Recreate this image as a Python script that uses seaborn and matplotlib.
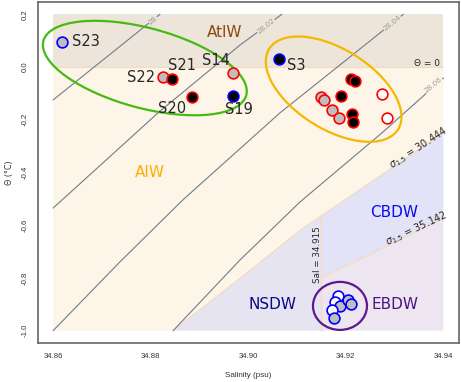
import numpy as np
import pandas as pd
import matplotlib
matplotlib.use("Agg")
import matplotlib.pyplot as plt
import seaborn as sns
from matplotlib.patches import Ellipse
from matplotlib.transforms import ScaledTranslation

# ---------------- data ----------------
# domain of water-mass boxes
sal_min, sal_max = 34.86, 34.94
theta_min, theta_max = -1.0, 0.2

# sigma-1.5 = 30.444 boundary (AIW / deep waters)
sig30444_S = [34.8846, 34.8984, 34.9107, 34.94]
sig30444_T = [-1.0, -0.80, -0.618, -0.25]
# sigma-1.5 = 35.142 boundary (CBDW / EBDW)
sig35142_S = [34.915, 34.94]
sig35142_T = [-0.80, -0.573]
sal_split = 34.915
sal_split_T = -0.564

# sigma-0 isopycnals
iso_levels = ["28", "28.02", "28.04", "28.06"]
iso28_S = [34.86, 34.8819]
iso28_T = [-0.125, 0.2]
iso2802_S = [34.86, 34.8702, 34.8815, 34.8983, 34.9069]
iso2802_T = [-0.535, -0.364, -0.174, 0.083, 0.2]
iso2804_S = [34.86, 34.8737, 34.8866, 34.9065, 34.9318]
iso2804_T = [-1.0, -0.739, -0.504, -0.174, 0.2]
iso2806_S = [34.8846, 34.8983, 34.9106, 34.9274, 34.94]
iso2806_T = [-1.0, -0.732, -0.512, -0.250, -0.042]
iso_label_S = [34.8805, 34.9036, 34.9295, 34.9379]
iso_label_T = [0.178, 0.156, 0.167, -0.068]

# stations
pt_S = [34.8618, 34.8826, 34.8844, 34.8885, 34.8969, 34.8969, 34.9064,
        34.9210, 34.9219, 34.9190, 34.9149, 34.9155, 34.9171, 34.9186,
        34.9213, 34.9214, 34.9275, 34.9285,
        34.9184, 34.9178, 34.9188, 34.9205, 34.9211, 34.9172, 34.9176]
pt_T = [0.096, -0.037, -0.047, -0.115, -0.022, -0.110, 0.029,
        -0.046, -0.053, -0.109, -0.113, -0.125, -0.163, -0.192,
        -0.179, -0.207, -0.104, -0.192,
        -0.868, -0.891, -0.906, -0.884, -0.899, -0.921, -0.952]
pt_fill = ["gray", "gray", "black", "black", "gray", "black", "black",
           "black", "black", "black", "gray", "gray", "gray", "gray",
           "black", "black", "white", "white",
           "white", "white", "gray", "gray", "gray", "white", "gray"]
pt_edge = ["blue", "red", "red", "red", "red", "blue", "blue",
           "red", "red", "red", "red", "red", "red", "red",
           "red", "red", "red", "red",
           "blue", "blue", "blue", "blue", "blue", "blue", "blue"]

stn_names = ["S23", "S22", "S21", "S20", "S14", "S19", "S3"]
stn_lab_S = [34.8638, 34.8809, 34.8864, 34.8843, 34.8934, 34.8981, 34.9098]
stn_lab_T = [0.095, -0.038, 0.004, -0.156, 0.023, -0.163, 0.004]
stn_lab_ha = ["left", "right", "center", "center", "center", "center", "center"]

# water masses
wm_names = ["AtlW", "AIW", "CBDW", "NSDW", "EBDW"]
wm_S = [34.8951, 34.8799, 34.9299, 34.9049, 34.9301]
wm_T = [0.129, -0.402, -0.550, -0.899, -0.899]
wm_colors = ["#8B4A0F", "#FFAE00", "#0A0AF0", "#0A0A85", "#4E1384"]

# cluster ellipses: centre (S, Theta), size (in), angle
ell_S = [34.8788, 34.9175, 34.9188]
ell_T = [-0.004, -0.084, -0.906]
ell_w = [2.10, 1.52, 0.54]
ell_h = [0.80, 0.80, 0.48]
ell_ang = [-15, -32, 0]
ell_col = ["#44BB11", "#F5B800", "#5A1A8C"]

# ---------------- figure ----------------
sns.set_style("white")
plt.rcParams["font.family"] = ["DejaVu Sans"]
plt.rcParams["axes.unicode_minus"] = False

fig = plt.figure(figsize=(4.61, 3.82), dpi=100)
ax = fig.add_axes([0.0824, 0.1021, 0.9957 - 0.0824, 0.9948 - 0.1021])
ax.set_xlim(34.8569, 34.9432)
ax.set_ylim(-1.0467, 0.2465)

c_atlw = "#EDE5DA"
c_aiw = "#FDF6E8"
c_cbdw = "#E3E3F8"
c_nsdw = "#E6E4F0"
c_ebdw = "#EDE5EF"
c_edge = "#F3D9BE"

# AtlW
ax.fill([sal_min, sal_max, sal_max, sal_min], [0, 0, theta_max, theta_max],
        color=c_atlw, lw=0, zorder=0)
# AIW
aiw_S = [sal_min, sal_max] + sig30444_S[::-1] + [sal_min]
aiw_T = [0, 0] + sig30444_T[::-1] + [theta_min]
ax.fill(aiw_S, aiw_T, color=c_aiw, lw=0, zorder=0)
# NSDW
ns_S = [sig30444_S[0], sal_split, sal_split] + [s for s in sig30444_S[::-1] if s < sal_split]
ns_T = [theta_min, theta_min, sal_split_T] + [t for s, t in zip(sig30444_S[::-1], sig30444_T[::-1]) if s < sal_split]
ax.fill(ns_S, ns_T, color=c_nsdw, lw=0, zorder=0)
# CBDW
cb_S = [sal_split] + [s for s in sig30444_S if s > sal_split] + [sal_max] + sig35142_S[::-1]
cb_T = [sal_split_T] + [t for s, t in zip(sig30444_S, sig30444_T) if s > sal_split] + [sig35142_T[-1]] + sig35142_T[::-1]
ax.fill(cb_S, cb_T, color=c_cbdw, lw=0, zorder=0)
# EBDW
eb_S = [sal_split, sal_max] + sig35142_S[::-1]
eb_T = [theta_min, theta_min] + sig35142_T[::-1]
ax.fill(eb_S, eb_T, color=c_ebdw, lw=0, zorder=0)

# boundaries
ax.plot([sal_min, sal_max], [0, 0], color=c_edge, lw=0.8, zorder=1)
ax.plot(sig30444_S, sig30444_T, color=c_edge, lw=0.8, zorder=1)
ax.plot(sig35142_S, sig35142_T, color=c_edge, lw=0.8, zorder=1)
ax.plot([sal_split, sal_split], [theta_min, sal_split_T], color=c_edge, lw=0.8, zorder=1)

# isopycnals
iso_S = [iso28_S, iso2802_S, iso2804_S, iso2806_S]
iso_T = [iso28_T, iso2802_T, iso2804_T, iso2806_T]
for s, t in zip(iso_S, iso_T):
    sns.lineplot(x=s, y=t, sort=False, estimator=None, color="#6F7C8C",
                 lw=0.8, ax=ax, zorder=2)
iso_bg = [c_atlw, c_atlw, c_atlw, c_aiw]
for lab, s, t, bg in zip(iso_levels, iso_label_S, iso_label_T, iso_bg):
    ax.text(s, t, lab, fontsize=5.2, color="#9A9A9A", rotation=39,
            ha="center", va="center", zorder=3,
            bbox=dict(boxstyle="square,pad=0.05", fc=bg, ec="none"))

# region texts
for n, s, t, c in zip(wm_names, wm_S, wm_T, wm_colors):
    ax.text(s, t, n, color=c, fontsize=11, ha="center", va="center", zorder=4)
ax.text(34.9393, 0.015, "Θ = 0", fontsize=6.5, ha="right", va="center", zorder=4)
ax.text(34.9348, -0.307, r"$\sigma_{1.5}$ = 30.444", fontsize=7, rotation=33,
        ha="center", va="center", zorder=4)
ax.text(34.9344, -0.614, r"$\sigma_{1.5}$ = 35.142", fontsize=7, rotation=25,
        ha="center", va="center", zorder=4)
ax.text(34.9141, -0.713, "Sal = 34.915", fontsize=6.3, rotation=90,
        ha="center", va="center", zorder=4)

# ellipses
for s, t, w, h, a, c in zip(ell_S, ell_T, ell_w, ell_h, ell_ang, ell_col):
    tr = fig.dpi_scale_trans + ScaledTranslation(s, t, ax.transData)
    ax.add_patch(Ellipse((0, 0), w, h, angle=a, transform=tr, fill=False,
                         ec=c, lw=1.6, zorder=5))

# points
fill_map = {"gray": "#BEBEBE", "black": "#000000", "white": "#FFFFFF"}
edge_map = {"red": "#FF0000", "blue": "#0000FF"}
df = pd.DataFrame({"S": pt_S, "T": pt_T, "fill": pt_fill, "edge": pt_edge})
for i in range(len(df)):
    sub = df.iloc[[i]]
    sns.scatterplot(data=sub, x="S", y="T", color=fill_map[sub["fill"].iloc[0]],
                    edgecolor=edge_map[sub["edge"].iloc[0]], s=60, linewidth=1.2,
                    ax=ax, zorder=6, legend=False)

for n, s, t, ha in zip(stn_names, stn_lab_S, stn_lab_T, stn_lab_ha):
    ax.text(s, t, n, fontsize=10.5, ha=ha, va="center", zorder=7)

# axes styling
ax.set_xticks([34.86, 34.88, 34.90, 34.92, 34.94])
ax.set_xticklabels(["34.86", "34.88", "34.90", "34.92", "34.94"])
ax.set_yticks([0.2, 0.0, -0.2, -0.4, -0.6, -0.8, -1.0])
ax.set_yticklabels(["0.2", "0.0", "-0.2", "-0.4", "-0.6", "-0.8", "-1.0"])
ax.tick_params(axis="both", direction="out", length=3.5, width=0.9,
               color="#666666", labelsize=5.6, labelcolor="#333333")
ax.tick_params(axis="x", pad=4)
ax.tick_params(axis="y", pad=3, labelrotation=90)
for lbl in ax.get_yticklabels() + ax.get_xticklabels():
    lbl.set_family("Liberation Sans")
for lbl in ax.get_yticklabels():
    lbl.set_va("center")
for sp in ax.spines.values():
    sp.set_color("#666666")
    sp.set_linewidth(1.2)
ax.set_xlabel("Salinity (psu)", fontsize=5.8, family="Liberation Sans",
              color="#333333", labelpad=8)
ax.set_ylabel("Θ (°C)", fontsize=5.8, family="DejaVu Sans", color="#333333",
              labelpad=6)

fig.savefig("out.png", dpi=100)
